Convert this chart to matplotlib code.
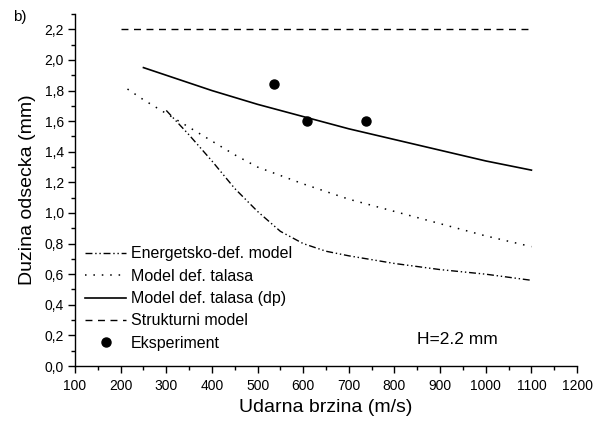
import matplotlib
matplotlib.use("Agg")
import matplotlib.pyplot as plt
from matplotlib.ticker import MultipleLocator, FuncFormatter

plt.rcParams['font.family'] = ['Liberation Sans', 'DejaVu Sans']

# Data
x_energ = [300, 350, 400, 450, 500, 550, 600, 650, 700, 800, 900, 1000, 1100]
y_energ = [1.67, 1.51, 1.34, 1.16, 1.01, 0.88, 0.80, 0.75, 0.72, 0.67, 0.63, 0.60, 0.56]

x_talas = [215, 250, 300, 350, 400, 450, 500, 600, 700, 800, 900, 1000, 1100]
y_talas = [1.81, 1.74, 1.65, 1.56, 1.47, 1.38, 1.30, 1.19, 1.09, 1.01, 0.93, 0.85, 0.78]

x_dp = [250, 300, 400, 500, 600, 700, 800, 900, 1000, 1100]
y_dp = [1.95, 1.90, 1.80, 1.71, 1.63, 1.55, 1.48, 1.41, 1.34, 1.28]

x_strukt = [200, 1100]
y_strukt = [2.2, 2.2]

x_exp = [535, 608, 737]
y_exp = [1.84, 1.60, 1.60]

labels = ["Energetsko-def. model", "Model def. talasa", "Model def. talasa (dp)",
          "Strukturni model", "Eksperiment"]

fig = plt.figure(figsize=(5.98, 4.22), dpi=100)
ax = fig.add_axes([0.1254, 0.1327, 0.8396, 0.834])

ax.plot(x_energ, y_energ, color='black', lw=1.0, linestyle=(0, (5, 2, 1, 2, 1, 2)), label=labels[0])
ax.plot(x_talas, y_talas, color='black', lw=1.1, linestyle=(0, (1, 4.5)), label=labels[1])
ax.plot(x_dp, y_dp, color='black', lw=1.2, linestyle='-', label=labels[2])
ax.plot(x_strukt, y_strukt, color='black', lw=1.0, linestyle=(0, (5, 4)), label=labels[3])
ax.plot(x_exp, y_exp, linestyle='none', marker='o', color='black', markersize=6.5, label=labels[4])

ax.set_xlim(100, 1200)
ax.set_ylim(0, 2.3)
ax.xaxis.set_major_locator(MultipleLocator(100))
ax.xaxis.set_minor_locator(MultipleLocator(50))
ax.yaxis.set_major_locator(MultipleLocator(0.2))
ax.yaxis.set_minor_locator(MultipleLocator(0.1))
ax.yaxis.set_major_formatter(FuncFormatter(lambda v, p: f"{v:.1f}".replace('.', ',')))

for s in ['top', 'right']:
    ax.spines[s].set_visible(False)
for s in ['left', 'bottom']:
    ax.spines[s].set_linewidth(1.0)

ax.tick_params(which='major', direction='out', length=5, width=1.0, labelsize=10)
ax.tick_params(axis='x', which='major', pad=4)
ax.tick_params(axis='y', which='major', pad=3)
ax.tick_params(which='minor', direction='out', length=3, width=1.0)

ax.set_xlabel("Udarna brzina (m/s)", fontsize=14, labelpad=5)
ax.set_ylabel("Duzina odsecka (mm)", fontsize=14, labelpad=6)

ax.legend(loc='upper left', bbox_to_anchor=(0.142, 0.416), bbox_transform=fig.transFigure,
          frameon=False, fontsize=11.5, handlelength=2.6, handletextpad=0.3,
          labelspacing=0.46, borderaxespad=0, borderpad=0)

ax.text(0.7624, 0.074, "H=2.2 mm", transform=ax.transAxes, fontsize=12.5, ha='center', va='center')
fig.text(0.021, 0.960, "b)", fontsize=11, ha='left', va='center')

fig.savefig("out.png", dpi=100)
